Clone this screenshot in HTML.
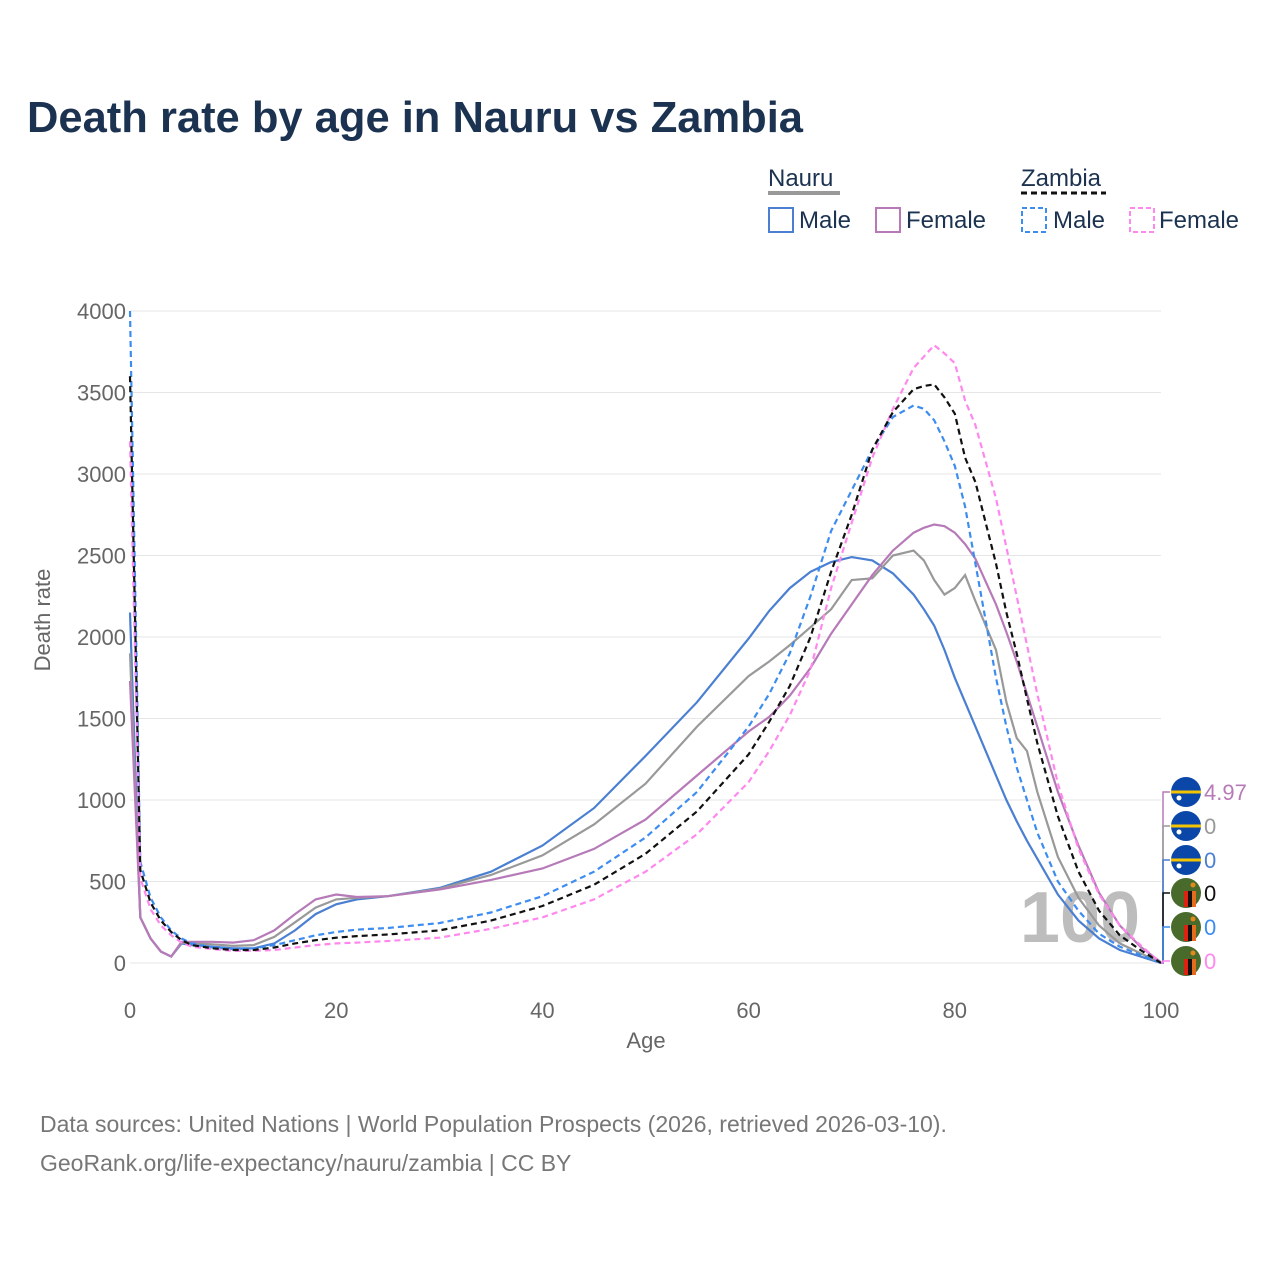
<!DOCTYPE html>
<html><head><meta charset="utf-8"><style>
body{margin:0;background:#fff;font-family:"Liberation Sans",sans-serif}
svg text{font-family:"Liberation Sans",sans-serif}
</style></head><body>
<svg id="chart" width="1280" height="1280" viewBox="0 0 1280 1280">
<text x="27" y="132" font-size="43.5" font-weight="bold" fill="#1b3250">Death rate by age in Nauru vs Zambia</text>
<g font-size="24" fill="#1b3250">
 <text x="768" y="186">Nauru</text>
 <line x1="768" y1="193" x2="840" y2="193" stroke="#999" stroke-width="4"/>
 <rect x="769" y="208" width="24" height="24" fill="none" stroke="#4a7fd1" stroke-width="2"/>
 <text x="799" y="228">Male</text>
 <rect x="876" y="208" width="24" height="24" fill="none" stroke="#b77ab8" stroke-width="2"/>
 <text x="906" y="228">Female</text>
 <text x="1021" y="186">Zambia</text>
 <line x1="1021" y1="193" x2="1106" y2="193" stroke="#111" stroke-width="3" stroke-dasharray="6,4"/>
 <rect x="1022" y="208" width="24" height="24" fill="none" stroke="#3d8cf0" stroke-width="2" stroke-dasharray="5,3"/>
 <text x="1053" y="228">Male</text>
 <rect x="1130" y="208" width="24" height="24" fill="none" stroke="#ff88ee" stroke-width="2" stroke-dasharray="5,3"/>
 <text x="1159" y="228">Female</text>
</g>
<g id="grid"></g>
<text x="1080" y="942" font-size="72" font-weight="bold" fill="#bdbdbd" text-anchor="middle">100</text>
<g id="series"></g>
<g id="endlabels"></g>
<text x="50" y="620" font-size="22" fill="#666" text-anchor="middle" transform="rotate(-90 50 620)">Death rate</text>
<text x="646" y="1048" font-size="22" fill="#666" text-anchor="middle">Age</text>
<text x="40" y="1132" font-size="23" fill="#777">Data sources: United Nations | World Population Prospects (2026, retrieved 2026-03-10).</text>
<text x="40" y="1171" font-size="23" fill="#777">GeoRank.org/life-expectancy/nauru/zambia | CC BY</text>
</svg>
<script>
const ages=[0,1,2,3,4,5,6,8,10,12,14,16,18,20,22,25,30,35,40,45,50,55,60,62,64,66,68,70,72,74,76,77,78,79,80,81,82,84,85,86,87,88,90,92,94,96,98,100];
const nauruMale=[2150,280,150,70,40,120,110,100,90,90,120,200,300,360,390,410,460,560,720,950,1270,1600,1990,2160,2300,2400,2460,2490,2470,2390,2260,2170,2070,1920,1750,1600,1450,1150,1000,870,750,640,420,260,150,80,40,0];
const nauruFemale=[1730,280,150,70,40,130,130,130,125,140,200,300,390,420,405,410,450,510,580,700,880,1150,1420,1510,1640,1810,2020,2200,2380,2530,2640,2670,2690,2680,2640,2570,2480,2200,2030,1850,1650,1450,1050,720,430,230,100,5];
const nauruAll=[1900,280,150,70,40,125,120,115,105,110,160,250,340,390,400,410,455,540,660,850,1100,1450,1760,1850,1950,2060,2170,2350,2360,2500,2530,2470,2350,2260,2300,2380,2220,1920,1600,1380,1300,1050,650,400,230,120,60,0];
const zambiaMale=[4000,620,400,280,200,150,120,95,85,90,110,140,170,190,205,215,245,310,410,560,770,1050,1450,1650,1900,2250,2650,2900,3150,3350,3420,3400,3330,3200,3050,2800,2450,1750,1450,1200,1000,800,500,320,180,100,50,0];
const zambiaAll=[3600,570,370,260,190,140,110,90,80,80,95,120,140,155,165,175,200,260,350,480,670,930,1280,1480,1700,2000,2400,2750,3150,3380,3520,3540,3550,3470,3370,3100,2950,2450,2150,1900,1620,1350,900,560,320,170,80,0];
const zambiaFemale=[3200,520,330,230,170,125,100,85,75,75,80,95,110,120,125,135,155,210,280,390,560,790,1110,1300,1520,1800,2300,2700,3100,3400,3650,3720,3790,3740,3680,3450,3300,2850,2550,2250,1950,1650,1100,700,420,230,110,0];
const yTicks=[0,500,1000,1500,2000,2500,3000,3500,4000];
const xTicks=[0,20,40,60,80,100];
const endNames=["Nauru Female","Nauru","Nauru Male","Zambia","Zambia Male","Zambia Female"];
const endValues=["4.97","0","0","0","0","0"];
const NS="http://www.w3.org/2000/svg";
const X=a=>130+a*(1161-130)/100, Y=v=>963-v*(963-311)/4000;
function mk(t,p,at){const e=document.createElementNS(NS,t);for(const k in at)e.setAttribute(k,at[k]);p.appendChild(e);return e;}
const grid=document.getElementById('grid');
yTicks.forEach(v=>{
 const l=mk('line',grid,{x1:130,x2:1161,y1:Y(v),y2:Y(v),stroke:'#e6e6e6','stroke-width':1});
 
 
 const t=mk('text',grid,{x:126,y:Y(v)+8,'font-size':22,fill:'#666','text-anchor':'end'});t.textContent=v;
 
 
});
xTicks.forEach(a=>{
 const t=mk('text',grid,{x:X(a),y:1018,'font-size':22,fill:'#666','text-anchor':'middle'});t.textContent=a;
 
 
});
const S=document.getElementById('series');
const defs=[[nauruMale,'#4a7fd1',null,'nauru-male-line'],[nauruAll,'#999',null,'nauru-total-line'],[nauruFemale,'#b77ab8',null,'nauru-female-line'],[zambiaMale,'#3d8cf0','6,4','zambia-male-line'],[zambiaFemale,'#ff88ee','6,4','zambia-female-line'],[zambiaAll,'#111','6,4','zambia-total-line']];
defs.forEach(([d,c,dash,n])=>{
 const p=mk('path',S,{d:d.map((v,i)=>(i?'L':'M')+X(ages[i]).toFixed(1)+','+Y(v).toFixed(1)).join(''),fill:'none',stroke:c,'stroke-width':2.2});
 if(dash)p.setAttribute('stroke-dasharray',dash);
 
 
});
const E=document.getElementById('endlabels');
const cols=['#b77ab8','#999','#4a7fd1','#111','#3d8cf0','#ff88ee'];
const ys=[792,826,860,893,927,961];
ys.forEach((y,i)=>{
 mk('path',E,{d:`M1161 963 L1163 963 L1163 ${y} L1170 ${y}`,fill:'none',stroke:cols[i],'stroke-width':1.5});
 const g=mk('g',E,{});
 
 
 const cx=1186;
 if(i<3){
  mk('circle',g,{cx:cx,cy:y,r:15,fill:'#0a47a8'});
  mk('rect',g,{x:cx-15,y:y-1.5,width:30,height:3,fill:'#f5c400'});
  mk('circle',g,{cx:cx-7,cy:y+6,r:2.5,fill:'#fff'});
 } else {
  mk('circle',g,{cx:cx,cy:y,r:15,fill:'#486b2b'});
  mk('rect',g,{x:cx-2,y:y-2,width:12,height:16,fill:'#e36d1c'});
  mk('rect',g,{x:cx-2,y:y-2,width:4,height:16,fill:'#d21'});
  mk('rect',g,{x:cx+2,y:y-2,width:4,height:16,fill:'#111'});
  mk('circle',g,{cx:cx+7,cy:y-8,r:2.5,fill:'#e38a1c'});
 }
 const t=mk('text',g,{x:1204,y:y+8,'font-size':22,fill:cols[i]});t.textContent=endValues[i];
});
</script>
</body></html>
